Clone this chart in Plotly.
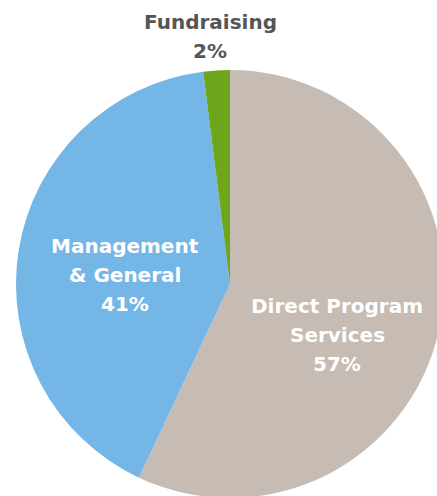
import plotly.graph_objects as go

labels = ["Direct Program Services", "Management & General", "Fundraising"]
values = [57, 41, 2]
colors = ["#C7BCB3", "#74B6E6", "#6EA51C"]
label_lines = [["Direct Program", "Services"], ["Management", "& General"], ["Fundraising"]]

W, H = 446, 500
ML, MR, MT, MB = 16, 2, 70, 2
PW, PH = W - ML - MR, H - MT - MB

fig = go.Figure(go.Pie(
    labels=labels, values=values, sort=False, direction="clockwise", rotation=0,
    marker=dict(colors=colors, line=dict(width=0)),
    textinfo="none", hoverinfo="label+percent", showlegend=False,
    domain=dict(x=[0, 1], y=[0, 1]),
))

def px2paper(px, py):
    return (px - ML) / PW, 1 - (py - MT) / PH

# label anchor (center x, first line y) and line spacing in px
anchors = [(337, 306, "white"), (125, 246, "white"), (210, 22, "#555555")]
spacing = 29
for (lines, v, (cx, cy, col)) in zip(label_lines, values, anchors):
    for i, t in enumerate(lines + [f"{v}%"]):
        x, y = px2paper(cx, cy + i * spacing)
        fig.add_annotation(x=x, y=y, xref="paper", yref="paper", text=f"<b>{t}</b>",
                           showarrow=False, xanchor="center", yanchor="middle",
                           font=dict(family="DejaVu Sans", size=20, color=col))

fig.update_layout(width=W, height=H, margin=dict(l=ML, r=MR, t=MT, b=MB),
                  paper_bgcolor="white", plot_bgcolor="white")

fig.write_html("out.html", config={"displayModeBar": False},
               post_script="document.body.style.margin='0';document.body.style.overflow='hidden';document.documentElement.style.overflow='hidden';")
